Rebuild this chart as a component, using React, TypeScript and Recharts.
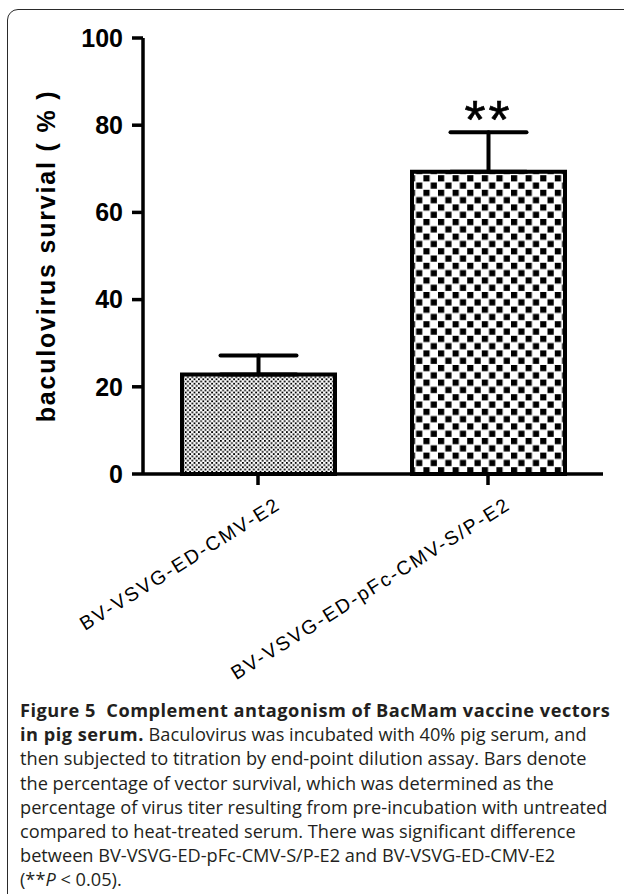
import { BarChart, Bar, XAxis, YAxis, ErrorBar, LabelList, Cell } from "recharts";

// values
const groups = ["BV-VSVG-ED-CMV-E2", "BV-VSVG-ED-pFc-CMV-S/P-E2"];
const survival = [22.8, 69.3];
const sem = [4.4, 9.1];
const marks = ["", "**"];
const yTicks = [0, 20, 40, 60, 80, 100];
const fills = ["url(#fineCheck)", "url(#coarseCheck)"];

const data = groups.map((name, i) => ({
  name,
  value: survival[i],
  err: [0, sem[i]],
  mark: marks[i],
}));

const captionLines = [
  "then subjected to titration by end-point dilution assay. Bars denote",
  "the percentage of vector survival, which was determined as the",
  "percentage of virus titer resulting from pre-incubation with untreated",
  "compared to heat-treated serum. There was significant difference",
  "between BV-VSVG-ED-pFc-CMV-S/P-E2 and BV-VSVG-ED-CMV-E2",
];

const chartFont = "'Liberation Sans', Arial, sans-serif";
const captionFont = "'Open Sans', 'Noto Sans', sans-serif";

// slanted category labels, ending just right of the tick
const SlantTick = (props: any) => {
  const { x, y, payload } = props;
  return (
    <g transform={`translate(${x + 24},${y + 21})`}>
      <text
        textAnchor="end"
        transform="rotate(-32)"
        fontSize={19.5}
        letterSpacing={2}
        fontFamily={chartFont}
        fill="#000"
      >
        {payload.value}
      </text>
    </g>
  );
};

// significance stars sit above the top of the error bar
const renderMark = (props: any) => {
  const { x, y, width, height, value, index } = props;
  if (!value) return null;
  const errTop = y - sem[index] * (height / survival[index]);
  return (
    <text
      x={x + width / 2}
      y={errTop + 6}
      textAnchor="middle"
      fontSize={54}
      letterSpacing={3}
      fontFamily={chartFont}
      fill="#000"
      stroke="#000"
      strokeWidth={0.6}
    >
      {value}
    </text>
  );
};

const App = () => {
  return (
    <div style={{ position: "absolute", left: 0, top: 0, width: 624, height: 894, background: "#fff", overflow: "hidden" }}>
      {/* figure frame */}
      <div
        style={{
          position: "absolute",
          left: 7,
          top: 9,
          width: 650,
          height: 910,
          border: "1.3px solid #2a2a2a",
          borderRadius: 11,
        }}
      />
      <div style={{ position: "absolute", left: 0, top: 0 }}>
        <BarChart
          width={624}
          height={700}
          data={data}
          margin={{ top: 38, right: 21, bottom: 166, left: 20 }}
          barSize={153}
        >
          <defs>
            <pattern id="fineCheck" patternUnits="userSpaceOnUse" width={4.4} height={4.4}>
              <rect width={4.4} height={4.4} fill="#fff" />
              <rect x={0} y={0} width={1.8} height={1.8} fill="#000" />
              <rect x={2.2} y={2.2} width={1.8} height={1.8} fill="#000" />
            </pattern>
            <pattern id="coarseCheck" patternUnits="userSpaceOnUse" width={14.6} height={14.6}>
              <rect width={14.6} height={14.6} fill="#fff" />
              <rect x={0} y={0} width={6.2} height={6.2} fill="#000" />
              <rect x={7.3} y={7.3} width={6.2} height={6.2} fill="#000" />
            </pattern>
          </defs>
          <XAxis
            dataKey="name"
            axisLine={{ stroke: "#000", strokeWidth: 3.5 }}
            tickLine={{ stroke: "#000", strokeWidth: 3.5 }}
            tickSize={11}
            tick={<SlantTick />}
            interval={0}
            height={60}
          />
          <YAxis
            domain={[0, 100]}
            ticks={yTicks}
            width={123}
            axisLine={{ stroke: "#000", strokeWidth: 3.5 }}
            tickLine={{ stroke: "#000", strokeWidth: 3.5 }}
            tickSize={11}
            tickMargin={9}
            tick={{ fontSize: 25, fontWeight: 700, fill: "#000", fontFamily: chartFont }}
            label={{
              value: "baculovirus survial ( % )",
              angle: -90,
              position: "insideLeft",
              offset: 26,
              style: {
                textAnchor: "middle",
                fontSize: 25,
                fontWeight: 700,
                letterSpacing: 1.8,
                fill: "#000",
                fontFamily: chartFont,
              },
            }}
          />
          <Bar dataKey="value" stroke="#000" strokeWidth={4} isAnimationActive={false}>
            {data.map((entry, index) => (
              <Cell key={`cell-${index}`} fill={fills[index]} />
            ))}
            <ErrorBar
              dataKey="err"
              width={38}
              stroke="#000"
              strokeWidth={4}
              strokeLinecap="round"
              isAnimationActive={false}
            />
            <LabelList dataKey="mark" content={renderMark} />
          </Bar>
        </BarChart>
      </div>
      {/* caption */}
      <div
        style={{
          position: "absolute",
          left: 20,
          top: 698,
          fontFamily: captionFont,
          fontSize: 18.2,
          lineHeight: "24.2px",
          color: "#231f20",
          whiteSpace: "pre",
        }}
      >
        <div style={{ fontWeight: 700, letterSpacing: 0.5 }}>Figure 5  Complement antagonism of BacMam vaccine vectors</div>
        <div>
          <span style={{ fontWeight: 700, letterSpacing: 0.5 }}>in pig serum.</span> Baculovirus was incubated with 40% pig serum, and
        </div>
        {captionLines.map((line, i) => (
          <div key={i}>{line}</div>
        ))}
        <div>
          (**<i>P</i> &lt; 0.05).
        </div>
      </div>
    </div>
  );
};

export default App;
